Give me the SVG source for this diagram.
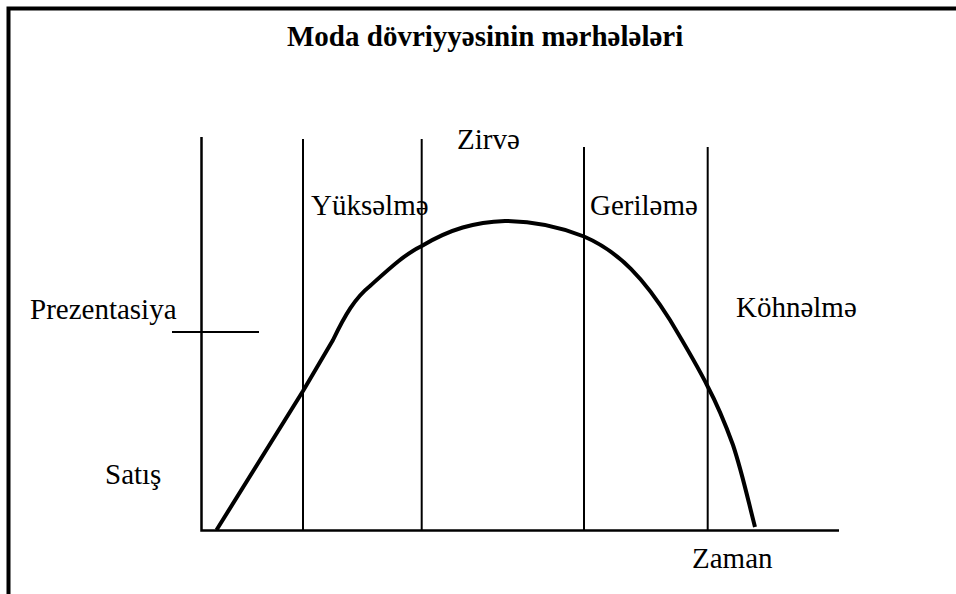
<svg xmlns="http://www.w3.org/2000/svg" width="956" height="594" viewBox="0 0 956 594">
<style>
.lbl{font-size:29px;fill:#000}
.title{font-weight:bold}
.ax{stroke:#000;stroke-width:2.5;fill:none}
.div{stroke:#000;stroke-width:2;fill:none}
.curve{stroke:#000;stroke-width:4;fill:none;stroke-linejoin:round}
</style>
<rect width="956" height="594" fill="#fff"/>
<g id="frame">
<path d="M8.5,594 V8.5 H956" fill="none" stroke="#000" stroke-width="4"/>
</g>
<g id="title"><text class="lbl title" style="font-family:'Liberation Serif',serif !important" x="287" y="46">Moda dövriyyəsinin mərhələləri</text></g>
<g id="connectors">
<path class="ax" d="M201.5,137 V530.5 H839"/>
<path class="div" d="M172,332 H259"/>
<path class="div" d="M303,139 V530"/>
<path class="div" d="M421.7,139 V530"/>
<path class="div" d="M584,147 V530"/>
<path class="div" d="M707.7,147 V530"/>
<path class="curve" d="M216.5,530 L303,391 L333,340 C345,315 355,298 370,286 C390,268 405,254 421.7,246 C450,229 475,222 505,221 C540,221 565,229 584,236.5 C620,252 645,280 670,320 C685,345 697,365 707.7,386.5 C718,406 725,423 733,445 C742,472 748,500 755,527"/>
</g>
<g id="zirve"><text class="lbl" style="font-family:'Liberation Serif',serif !important" x="457" y="149">Zirvə</text></g>
<g id="yukselme"><text class="lbl" style="font-family:'Liberation Serif',serif !important" x="311" y="215">Yüksəlmə</text></g>
<g id="gerileme"><text class="lbl" style="font-family:'Liberation Serif',serif !important" x="590" y="215">Geriləmə</text></g>
<g id="prezentasiya"><text class="lbl" style="font-family:'Liberation Serif',serif !important" x="30" y="319">Prezentasiya</text></g>
<g id="kohnelme"><text class="lbl" style="font-family:'Liberation Serif',serif !important" x="736" y="317">Köhnəlmə</text></g>
<g id="satis"><text class="lbl" style="font-family:'Liberation Serif',serif !important" x="105" y="484">Satış</text></g>
<g id="zaman"><text class="lbl" style="font-family:'Liberation Serif',serif !important" x="692" y="568">Zaman</text></g>
</svg>
